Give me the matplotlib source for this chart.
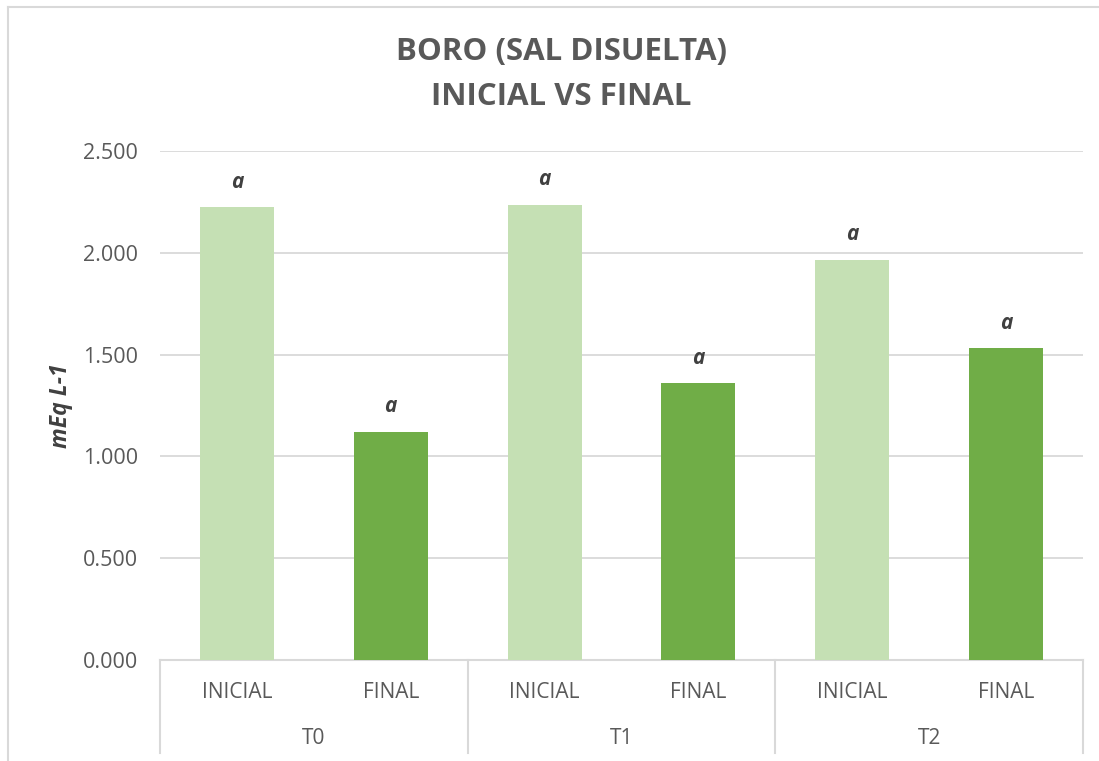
import matplotlib
matplotlib.use("Agg")
import matplotlib.pyplot as plt
import matplotlib.transforms as mtransforms
from matplotlib.lines import Line2D

# data
groups = ["T0", "T1", "T2"]
stages = ["INICIAL", "FINAL"]
inicial = [2.223, 2.235, 1.965]
final = [1.120, 1.360, 1.532]
letters_inicial = ["a", "a", "a"]
letters_final = ["a", "a", "a"]
yticks = [0.0, 0.5, 1.0, 1.5, 2.0, 2.5]

light = "#C5E0B4"
dark = "#70AD47"
grey_txt = "#595959"
grid_col = "#D9D9D9"

plt.rcParams['font.family'] = ['Open Sans', 'DejaVu Sans']

W, H = 1099, 761
fig = plt.figure(figsize=(W / 100, H / 100), dpi=100)
ax = fig.add_axes([160 / W, 1 - 660 / H, (1083 - 160) / W, (660 - 151) / H])

# outer chart frame (top and left visible)
fig.add_artist(Line2D([8 / W, 1.0], [1 - 7 / H, 1 - 7 / H], color=grid_col, lw=1.5))
fig.add_artist(Line2D([8 / W, 8 / W], [0.0, 1 - 7 / H], color=grid_col, lw=1.5))

# bar positions: 6 slots, interleaved INICIAL / FINAL
x_ini = [2 * i for i in range(len(groups))]
x_fin = [2 * i + 1 for i in range(len(groups))]
bw = 0.48
ax.bar(x_ini, inicial, width=bw, color=light, zorder=3)
ax.bar(x_fin, final, width=bw, color=dark, zorder=3)

for xs, vals, labs in [(x_ini, inicial, letters_inicial), (x_fin, final, letters_final)]:
    for x, v, l in zip(xs, vals, labs):
        ax.annotate(l, (x, v), xytext=(0, 25), textcoords="offset pixels",
                    ha="center", va="center", fontsize=15, fontweight="bold",
                    fontstyle="italic", color="#404040")

ax.set_xlim(-0.5, 2 * len(groups) - 0.5)
ax.set_ylim(0, 2.5)
ax.set_yticks(yticks)
ax.set_yticklabels([f"{t:.3f}" for t in yticks], fontsize=15.5, color=grey_txt)
ax.tick_params(axis="y", length=0, pad=16)
ax.set_xticks([])
ax.yaxis.grid(True, color=grid_col, lw=1.3, zorder=0)
for s in ["top", "right", "left"]:
    ax.spines[s].set_visible(False)
ax.spines["bottom"].set_color(grid_col)
ax.spines["bottom"].set_linewidth(1.5)
fig.text(61 / W, 1 - 406 / H, "mEq L-1", rotation=90, ha="center", va="center",
         fontsize=16.5, fontweight="bold", fontstyle="italic", color="#404040")

# two-level category axis
tr = mtransforms.blended_transform_factory(ax.transData, ax.transAxes)
row1 = -(692 - 660) / (660 - 151)
row2 = -(738 - 660) / (660 - 151)
bottom = -(753 - 660) / (660 - 151)
for i, g in enumerate(groups):
    for j, st in enumerate(stages):
        ax.text(2 * i + j, row1, st, transform=tr, ha="center", va="center",
                fontsize=15, color=grey_txt)
    ax.text(2 * i + 0.5, row2, g, transform=tr, ha="center", va="center",
            fontsize=15, color=grey_txt)
for k in range(len(groups) + 1):
    ax.plot([2 * k - 0.5, 2 * k - 0.5], [0, bottom], transform=tr, color=grid_col,
            lw=1.5, clip_on=False)

fig.text(561 / W, 1 - 52 / H, "BORO (SAL DISUELTA)", ha="center", va="center",
         fontsize=22.5, fontweight="bold", color=grey_txt)
fig.text(561 / W, 1 - 97 / H, "INICIAL VS FINAL", ha="center", va="center",
         fontsize=22.5, fontweight="bold", color=grey_txt)

fig.savefig("out.png", dpi=100)
